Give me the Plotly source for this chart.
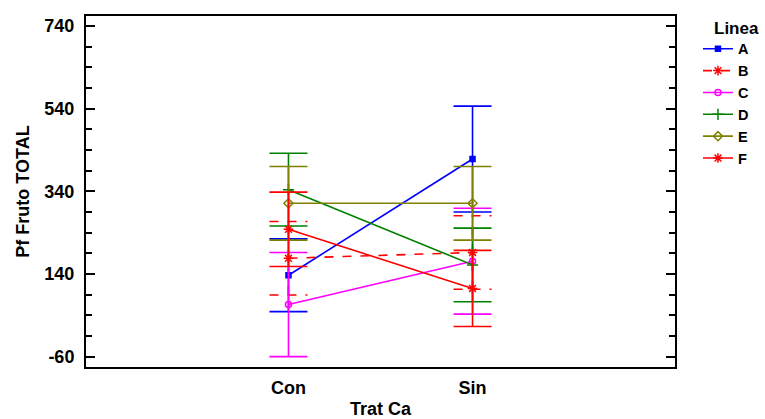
import plotly.graph_objects as go

categories = ["Con", "Sin"]
cat_pos = [1, 2]
lineas = ["A", "B", "C", "D", "E", "F"]
means = {
    "A": [137, 418],
    "B": [178, 192],
    "C": [66, 171],
    "D": [344, 162],
    "E": [311, 311],
    "F": [248, 105],
}
halfwidths = {
    "A": [88, 128],
    "B": [89, 89],
    "C": [126, 128],
    "D": [88, 89],
    "E": [89, 89],
    "F": [90, 92],
}
colors = {"A": "#0000FF", "B": "#FF0000", "C": "#FF00FF", "D": "#008000", "E": "#808000", "F": "#FF0000"}
dashes = {"A": "solid", "B": "dash", "C": "solid", "D": "solid", "E": "solid", "F": "solid"}
symbols = {"A": "square", "B": "asterisk-open", "C": "circle-open", "D": "cross-thin-open",
           "E": "diamond-open", "F": "asterisk-open"}
sizes = {"A": 5, "B": 8, "C": 6, "D": 8, "E": 7, "F": 8}
y_ticks = [-60, 140, 340, 540, 740]
y_ticktext = ["-60", "140", "340", "540", "740"]

XR = [-0.1, 3.1]
CAP_PX = 19
PLOT_W = 589
cap_dx = CAP_PX / PLOT_W * (XR[1] - XR[0])

FONT = "Liberation Sans"
fig = go.Figure()
for k in lineas:
    c = colors[k]
    if dashes[k] == "dash":
        ex, ey = [], []
        for x, m, h in zip(cat_pos, means[k], halfwidths[k]):
            ex += [x, x, None, x - cap_dx, x + cap_dx, None, x - cap_dx, x + cap_dx, None]
            ey += [m - h, m + h, None, m + h, m + h, None, m - h, m - h, None]
        fig.add_trace(go.Scatter(x=ex, y=ey, mode="lines", showlegend=False, hoverinfo="skip",
                                 line=dict(color=c, width=1.6, dash="dash")))
        err = None
    else:
        err = dict(type="data", array=halfwidths[k], visible=True, color=c, thickness=1.6, width=CAP_PX)
    fig.add_trace(go.Scatter(
        x=cat_pos, y=means[k], name=k, mode="lines+markers",
        line=dict(color=c, width=1.6, dash=dashes[k]),
        marker=dict(symbol=symbols[k], size=sizes[k], color=c, line=dict(color=c, width=1.5)),
        error_y=err,
    ))

fig.update_layout(
    width=765, height=419,
    margin=dict(l=86, r=90, t=16, b=52, autoexpand=False),
    paper_bgcolor="white", plot_bgcolor="white",
    font=dict(family=FONT, size=18, color="black", weight="bold"),
    showlegend=True,
    legend=dict(x=1.039, xanchor="left", y=0.952, yanchor="top",
                font=dict(size=14.5, weight="bold"), bgcolor="rgba(0,0,0,0)",
                itemwidth=30, tracegroupgap=0),
    annotations=[dict(text="Linea", xref="paper", yref="paper", x=1.105, y=0.965,
                      xanchor="center", yanchor="middle", showarrow=False,
                      font=dict(size=17, weight="bold"))],
    xaxis=dict(range=XR, tickvals=cat_pos, ticktext=categories, showgrid=False, zeroline=False,
               showline=True, linecolor="black", linewidth=2, mirror=True, ticks="",
               ticklabelstandoff=3, automargin=False,
               title=dict(text="Trat Ca", standoff=13, font=dict(size=18, weight="bold"))),
    yaxis=dict(range=[-85, 764], tickvals=y_ticks, ticktext=y_ticktext, showgrid=False, zeroline=False,
               showline=True, linecolor="black", linewidth=2, mirror="allticks",
               ticks="inside", ticklen=9, tickwidth=2, tickcolor="black",
               ticklabelstandoff=6, automargin=False,
               minor=dict(dtick=50, tick0=-60, ticks="inside", ticklen=6, tickwidth=2, tickcolor="black", showgrid=False),
               title=dict(text="Pf Fruto TOTAL", standoff=10, font=dict(size=18, weight="bold"))),
)
fig.write_html("out.html")
